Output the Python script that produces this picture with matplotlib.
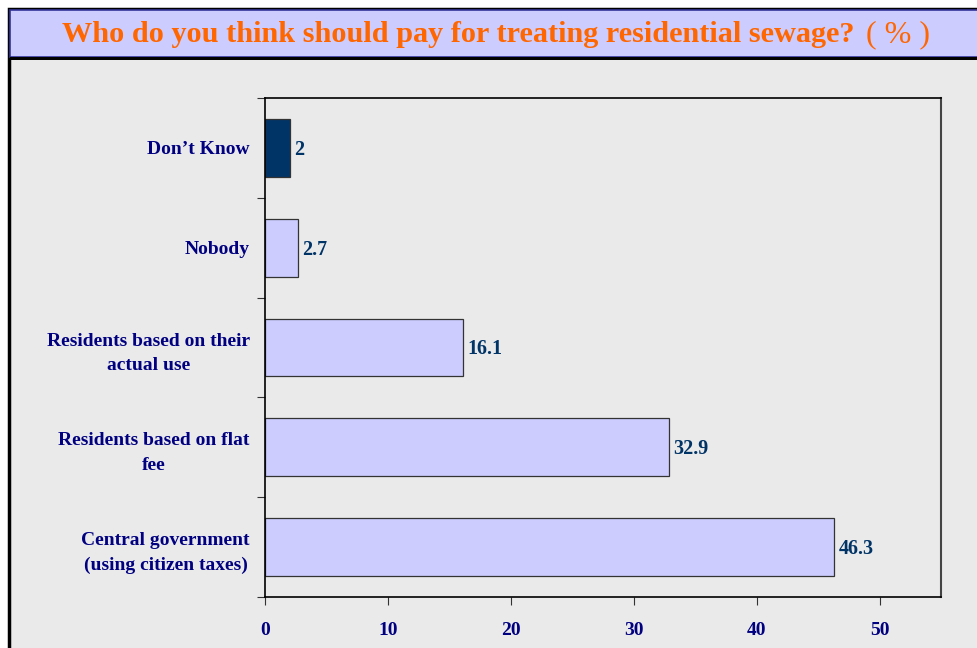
import matplotlib.pyplot as plt
from matplotlib.patches import Rectangle

categories = ["Don\u2019t Know", "Nobody", "Residents based on their\nactual use",
              "Residents based on flat\nfee", "Central government\n(using citizen taxes)"]
values = [2, 2.7, 16.1, 32.9, 46.3]
bar_colors = ["#003366", "#CCCCFF", "#CCCCFF", "#CCCCFF", "#CCCCFF"]
xticks = [0, 10, 20, 30, 40, 50]

W, H = 977, 648
plt.rcParams['font.family'] = ['Liberation Serif', 'DejaVu Serif']

fig = plt.figure(figsize=(W / 100, H / 100), dpi=100)
fig.patch.set_facecolor("white")


def px(x, y, w, h):
    return (x / W, 1 - (y + h) / H, w / W, h / H)


def rect(x, y, w, h, **kw):
    l, b, ww, hh = px(x, y, w, h)
    fig.patches.append(Rectangle((l, b), ww, hh, transform=fig.transFigure, zorder=-10, **kw))


# gray panel with black outline
rect(9, 9, 980, 650, facecolor="#EAEAEA", edgecolor="black", linewidth=2.5)
# title box
rect(10, 10, 980, 47, facecolor="#CCCCFF", edgecolor="#333399", linewidth=1.2)
rect(10, 57, 980, 3, facecolor="black", edgecolor="none")

fig.text(62 / W, 1 - 35 / H, "Who do you think should pay for treating residential sewage?",
         color="#FF6600", fontsize=21.8, fontweight="bold", ha="left", va="center")
fig.text(866 / W, 1 - 35 / H, "( % )", color="#FF6600", fontsize=23, ha="left", va="center")

ax = fig.add_axes((265 / W, (H - 597) / H, (941 - 265) / W, (597 - 98) / H))
ax.set_facecolor("#EAEAEA")

ypos = list(range(len(categories)))
ax.barh(ypos, values, height=0.58, color=bar_colors, edgecolor="#333333", linewidth=0.9)
for y, v in zip(ypos, values):
    ax.text(v + 0.35, y + 0.02, f"{v:g}", color="#003366", fontsize=14.5, fontweight="bold",
            ha="left", va="center")

ax.set_xlim(0, 55)
ax.set_ylim(len(categories) - 0.5, -0.5)
ax.set_xticks(xticks)
ax.set_xticklabels([str(t) for t in xticks], color="#000080", fontsize=14, fontweight="bold")
ax.set_yticks([i + 0.5 for i in range(-1, len(categories))])
ax.set_yticklabels([])
ax.set_yticks(ypos, minor=True)
ax.set_yticklabels(categories, minor=True, color="#000080", fontsize=14, fontweight="bold",
                   linespacing=1.6, multialignment="center")
ax.tick_params(axis="y", which="minor", length=0, pad=11)
ax.tick_params(axis="y", which="major", length=6, direction="out", color="#333333")
ax.tick_params(axis="x", length=6, direction="out", pad=12, color="#333333")
for s in ["top", "bottom", "left"]:
    ax.spines[s].set_color("black")
    ax.spines[s].set_linewidth(1.2)
ax.spines["right"].set_color("#444444")
ax.spines["right"].set_linewidth(1.5)

fig.savefig("out.png", dpi=100, facecolor=fig.get_facecolor())
